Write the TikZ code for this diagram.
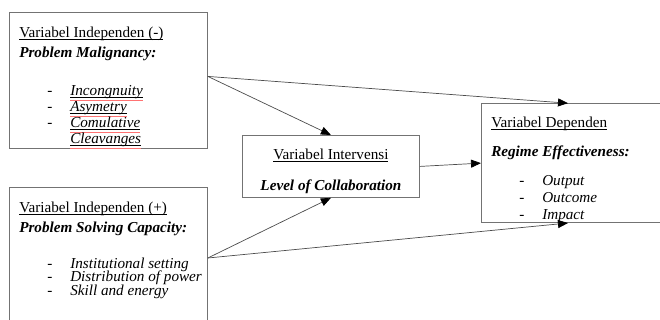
\documentclass[tikz,border=0pt]{standalone}
\usepackage{fontspec}
\setmainfont{Liberation Serif}
\usetikzlibrary{arrows.meta,positioning}

\lineskiplimit=-20pt
\newlength{\ulwd}

\newcommand{\dashitem}[1]{\hspace*{0.7cm}\makebox[0.575cm][l]{-}\textit{#1}}
\newcommand{\ulin}[1]{\settowidth{\ulwd}{#1}\rlap{\rule[-1.5pt]{\ulwd}{0.45pt}}#1}
\newcommand{\spellul}[1]{\settowidth{\ulwd}{#1}%
  \rlap{\color{red!55!white}\rule[-3.7pt]{\ulwd}{0.7pt}}%
  \ulin{#1}}

\begin{document}
\begin{tikzpicture}[
    varbox/.style={draw=black!55, line width=0.6pt, anchor=north west, inner sep=0pt},
    boxtext/.style={anchor=north west, align=left, inner sep=0pt},
    link/.style={draw=black!70, line width=0.5pt, -{Triangle[length=0.25cm,width=0.2cm,color=black]}}
  ]
  \clip (0,0) rectangle (16.5,8);

  \node[varbox, minimum width=4.95cm, minimum height=3.4cm] (VN) at (0.225,7.7) {};
  \node[varbox, minimum width=4.95cm, minimum height=3.6cm] (VP) at (0.225,3.325) {};
  \node[varbox, minimum width=4.425cm, minimum height=1.55cm] (VI) at (6.05,4.625) {};
  \node[varbox, minimum width=5cm, minimum height=2.975cm] (VD) at (12.025,5.42) {};

  \node[boxtext, font=\fontsize{10.8}{11.4}\selectfont] (TN) at ([shift={(0.25,-0.365)}]VN.north west)
    {\ulin{Variabel Independen (-)}\\[2.8pt]
     \textbf{\textit{Problem Malignancy:}}\\[15.6pt]
     \dashitem{\spellul{Incongnuity}}\\
     \dashitem{\spellul{Asymetry}}\\
     \dashitem{\spellul{Comulative}}\\
     \hspace*{1.275cm}\textit{\spellul{Cleavanges}}};

  \node[boxtext, font=\fontsize{10.8}{9.5}\selectfont] (TP) at ([shift={(0.25,-0.365)}]VP.north west)
    {\ulin{Variabel Independen (+)}\\[4.7pt]
     \textbf{\textit{Problem Solving Capacity:}}\\[16.1pt]
     \dashitem{Institutional setting}\\
     \dashitem{Distribution of power}\\
     \dashitem{Skill and energy}};

  \node[boxtext, anchor=north, align=center, font=\fontsize{10.8}{11.4}\selectfont] (TI) at ([yshift=-0.345cm]VI.north)
    {\ulin{Variabel Intervensi}\\[10.4pt]
     \textbf{\textit{Level of Collaboration}}};

  \node[boxtext, font=\fontsize{10.8}{11.9}\selectfont] (TD) at ([shift={(0.25,-0.34)}]VD.north west)
    {\ulin{Variabel Dependen}\\[9pt]
     \textbf{\textit{Regime Effectiveness:}}\\[8.7pt]
     \dashitem{Output}\\
     \dashitem{Outcome}\\
     \dashitem{Impact}};

  \draw[link] ([yshift=0.1cm]VN.east) -- (VI.north);
  \draw[link] ([yshift=0.1cm]VN.east) -- ([xshift=2.175cm]VD.north west);
  \draw[link] (VI.east) -- (VD.west);
  \draw[link] ([yshift=-1.775cm]VP.north east) -- (VI.south);
  \draw[link] ([yshift=-1.775cm]VP.north east) -- ([xshift=2.175cm]VD.south west);
\end{tikzpicture}
\end{document}
